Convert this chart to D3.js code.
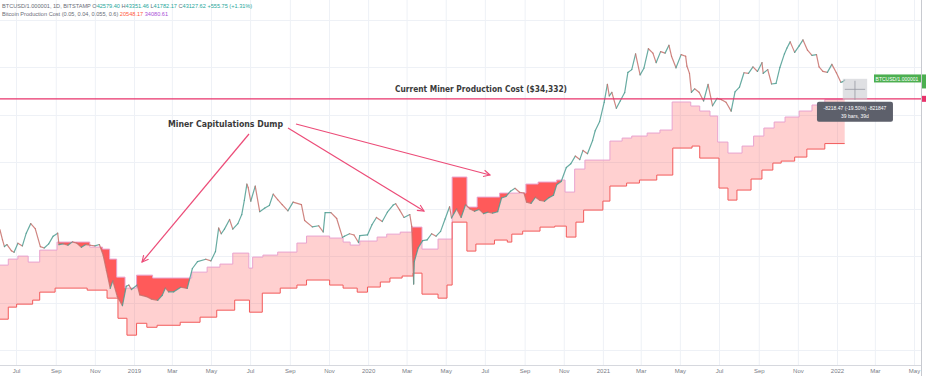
<!DOCTYPE html>
<html lang="en">
<head>
<meta charset="UTF-8">
<title>BTC Miner Production Cost</title>
<script src="https://d3js.org/d3.v7.min.js"></script>
<style>
  body { margin: 0; background: #fff; }
  svg { display: block; font-family: "Liberation Sans", Arial, sans-serif; }
</style>
</head>
<body>
<div id="graph"></div>
<script>
// ---- data ----
// BTCUSD closes (approx, sampled ~weekly)
const priceDates = [
  "2018-06-06","2018-06-10","2018-06-13","2018-06-17","2018-06-24","2018-06-28","2018-07-04","2018-07-11","2018-07-17","2018-07-24",
  "2018-07-31","2018-08-08","2018-08-14","2018-08-21","2018-08-28","2018-09-04","2018-09-06","2018-09-13","2018-09-20","2018-09-27",
  "2018-10-04","2018-10-11","2018-10-18","2018-10-25","2018-11-01","2018-11-08","2018-11-14","2018-11-19","2018-11-25","2018-11-29",
  "2018-12-06","2018-12-14","2018-12-20","2018-12-24","2018-12-28",
  "2019-01-06","2019-01-10","2019-01-20","2019-01-28","2019-02-07","2019-02-14","2019-02-19","2019-02-24","2019-03-04","2019-03-15",
  "2019-03-25","2019-04-02","2019-04-10","2019-04-23","2019-05-01","2019-05-08","2019-05-13","2019-05-17","2019-05-22","2019-05-30",
  "2019-06-04","2019-06-12","2019-06-18","2019-06-22","2019-06-26","2019-06-28","2019-07-02","2019-07-09","2019-07-16","2019-07-24",
  "2019-07-31","2019-08-06","2019-08-13","2019-08-20","2019-08-29","2019-09-06","2019-09-19","2019-09-24","2019-10-06","2019-10-16",
  "2019-10-23","2019-10-26","2019-11-04","2019-11-13","2019-11-22","2019-11-25","2019-12-03","2019-12-10","2019-12-17","2019-12-19",
  "2019-12-31",
  "2020-01-07","2020-01-14","2020-01-23","2020-01-31","2020-02-09","2020-02-13","2020-02-19","2020-02-26","2020-03-06","2020-03-09",
  "2020-03-12","2020-03-13","2020-03-19","2020-03-26","2020-04-02","2020-04-09","2020-04-16","2020-04-23","2020-04-30","2020-05-07",
  "2020-05-10","2020-05-18","2020-05-25","2020-06-01","2020-06-08","2020-06-15","2020-06-22","2020-06-29","2020-07-06","2020-07-13",
  "2020-07-21","2020-07-27","2020-08-03","2020-08-10","2020-08-17","2020-08-24","2020-08-31","2020-09-04","2020-09-11","2020-09-18",
  "2020-09-25","2020-10-02","2020-10-09","2020-10-16","2020-10-21","2020-10-28","2020-11-05","2020-11-12","2020-11-19","2020-11-26",
  "2020-12-01","2020-12-08","2020-12-16","2020-12-20","2020-12-27",
  "2021-01-03","2021-01-08","2021-01-11","2021-01-15","2021-01-22","2021-01-28","2021-02-04","2021-02-09","2021-02-15","2021-02-21",
  "2021-02-28","2021-03-06","2021-03-13","2021-03-20","2021-03-25","2021-04-01","2021-04-08","2021-04-14","2021-04-18","2021-04-25",
  "2021-05-03","2021-05-10","2021-05-12","2021-05-16","2021-05-19","2021-05-24","2021-05-31","2021-06-07","2021-06-14","2021-06-21",
  "2021-06-28","2021-07-05","2021-07-12","2021-07-20","2021-07-26","2021-08-02","2021-08-09","2021-08-16","2021-08-23","2021-08-30",
  "2021-09-06","2021-09-08","2021-09-15","2021-09-21","2021-09-28","2021-10-04","2021-10-11","2021-10-15","2021-10-20","2021-10-27",
  "2021-11-03","2021-11-09","2021-11-16","2021-11-23","2021-11-30","2021-12-04","2021-12-10","2021-12-17","2021-12-24","2021-12-31",
  "2022-01-07","2022-01-10","2022-01-13"
];
const priceValues = [
  7650, 6800, 6300, 6450, 6000, 5900, 6550, 6350, 7350, 8200,
  7750, 6300, 6200, 6500, 7100, 7350, 6450, 6500, 6400, 6650,
  6550, 6250, 6450, 6400, 6350, 6450, 5700, 4800, 3900, 4250,
  3550, 3200, 4000, 4050, 3850,
  4050, 3620, 3550, 3450, 3400, 3600, 3920, 3750, 3750, 3950,
  3900, 4900, 5300, 5450, 5350, 5950, 7800, 7300, 7700, 8600,
  7700, 8200, 9100, 10700, 12900, 12400, 10600, 12600, 9400, 9800,
  10100, 11500, 10800, 10200, 9500, 10500, 10200, 8500, 7900, 8000,
  7450, 9300, 9300, 8700, 7000, 7100, 7300, 7200, 6600, 7150,
  7200,
  8100, 8800, 8400, 9350, 10150, 10300, 9600, 8800, 9100, 7950,
  4100, 5300, 6200, 6750, 6800, 7300, 7100, 7500, 8650, 9950,
  8750, 9700, 8800, 10200, 9700, 9450, 9650, 9200, 9350, 9250,
  9400, 11000, 11200, 11900, 12300, 11750, 11650, 10500, 10350, 11100,
  10700, 10600, 11050, 11350, 12800, 13300, 15600, 16300, 17800, 17100,
  19000, 18300, 21300, 23800, 26500,
  33000, 40500, 35500, 37000, 30800, 33500, 36900, 46500, 48000, 57500,
  45200, 48800, 61000, 58000, 52000, 59000, 58000, 63500, 56000, 49000,
  57000, 56000, 50000, 46000, 37000, 38500, 37000, 33500, 40500, 31700,
  34500, 34000, 33000, 29800, 37200, 39300, 46300, 46000, 49500, 47000,
  52000, 46000, 48000, 40700, 41000, 49200, 57500, 61500, 66000, 58500,
  63000, 67500, 60000, 56500, 57000, 49500, 47000, 46500, 51000, 46300,
  41500, 41800, 42600
];

// production cost band, upper (purple) - step values
const upperDates = [
  "2018-06-01","2018-06-19","2018-07-04","2018-07-20","2018-08-07","2018-09-03","2018-10-24","2018-11-13","2018-11-24","2018-12-05",
  "2018-12-18","2019-01-05","2019-01-30","2019-04-01","2019-04-25","2019-05-15","2019-06-04","2019-06-29","2019-07-05","2019-07-21",
  "2019-08-13","2019-09-12","2019-09-27","2019-11-02","2019-11-23","2019-12-04","2019-12-19","2020-01-15","2020-01-30","2020-02-20",
  "2020-03-09","2020-03-25","2020-04-19","2020-05-11","2020-06-03","2020-06-19","2020-07-24","2020-09-03","2020-09-22","2020-10-21",
  "2020-11-03","2020-11-18","2020-12-04","2021-01-12","2021-01-31","2021-02-15","2021-03-11","2021-03-31","2021-04-19","2021-05-18",
  "2021-06-01","2021-06-17","2021-06-29","2021-07-15","2021-08-06","2021-08-24","2021-09-09","2021-09-25","2021-10-12","2021-11-03",
  "2021-11-23","2021-12-13"
];
const upperValues = [
  5095, 5458, 5649, 5274, 6052, 6636, 6265, 6122, 5458, 4438,
  3912, 4541, 4392, 4700, 4978, 5154, 5847, 4921, 5585, 5714,
  5915, 6560, 7109, 6948, 6636, 6411, 6713, 7028, 7269, 7438,
  7878, 6122, 6868, 13994, 9913, 11117, 11641, 12913, 13213, 13520,
  11777, 15335, 17000, 21146, 21887, 22396, 23186, 24000, 33101, 31615,
  29845, 28179, 20904, 18424, 19965, 22396, 24557, 26309, 27865, 29845,
  31980, 34080
];

// production cost band, lower (red) - step values
const lowerDates = [
  "2018-06-01","2018-06-19","2018-07-02","2018-07-27","2018-08-07","2018-08-31","2018-10-20","2018-11-20","2018-12-07","2018-12-21",
  "2019-01-05","2019-01-21","2019-02-06","2019-03-14","2019-04-14","2019-05-10","2019-06-07","2019-06-30","2019-07-20","2019-08-17",
  "2019-09-12","2019-09-27","2019-11-02","2019-11-23","2019-12-15","2019-12-31","2020-01-20","2020-02-04","2020-02-23","2020-03-11",
  "2020-03-25","2020-04-19","2020-05-03","2020-05-11","2020-06-03","2020-06-17","2020-07-16","2020-08-05","2020-08-12","2020-08-29",
  "2020-09-25","2020-10-18","2020-11-05","2020-11-20","2020-12-02","2021-01-01","2021-01-12","2021-02-07","2021-02-27","2021-03-26",
  "2021-04-20","2021-05-20","2021-06-01","2021-07-01","2021-07-15","2021-07-29","2021-08-20","2021-09-06","2021-09-23","2021-10-06",
  "2021-10-27","2021-11-15","2021-12-13"
];
const lowerValues = [
  2739, 3145, 3255, 3408, 3736, 3912, 3823, 3487, 2768, 2280,
  2613, 2496, 2554, 2644, 2803, 3037, 3408, 2968, 3693, 3912,
  4052, 4292, 4052, 3912, 3736, 3961, 4195, 4392, 4494, 4646,
  3651, 3487, 4052, 8341, 5983, 6485, 6790, 6636, 7269, 7524,
  7878, 7969, 7028, 8341, 9577, 10618, 12620, 13062, 13520, 14314,
  19513, 19965, 17395, 12330, 10740, 12050, 13676, 15160, 16424, 16806,
  17597, 19290, 20548
];
const bandEnd = "2022-01-13";

const currentCost = 34332;
const monthTicks = [
  "2018-07-01","2018-09-01","2018-11-01","2019-01-01","2019-03-01","2019-05-01","2019-07-01","2019-09-01","2019-11-01",
  "2020-01-01","2020-03-01","2020-05-01","2020-07-01","2020-09-01","2020-11-01","2021-01-01","2021-03-01","2021-05-01",
  "2021-07-01","2021-09-01","2021-11-01","2022-01-01","2022-03-01","2022-05-01"
];
const monthLabels = [
  "Jul","Sep","Nov","2019","Mar","May","Jul","Sep","Nov",
  "2020","Mar","May","Jul","Sep","Nov","2021","Mar","May",
  "Jul","Sep","Nov","2022","Mar","May"
];
const gridPrices = [85000, 49500, 28500, 16600, 9700, 5650, 3290, 1920];

// ---- chart ----
var width = 926, height = 376;
var plotRight = 921, plotBottom = 365;
var parse = d3.utcParse("%Y-%m-%d");

var svg = d3.select("#graph").append("svg")
    .attr("width", width)
    .attr("height", height);

var x = d3.scaleUtc()
    .domain([parse("2019-01-01"), parse("2022-01-01")])
    .range([134, 837]);

var y = d3.scaleLog()
    .domain([3150, 69000])
    .range([307, 38]);

var price = priceDates.map((d, i) => ({ date: parse(d), value: priceValues[i] }));
var upper = upperDates.map((d, i) => ({ date: parse(d), value: upperValues[i] }));
var lower = lowerDates.map((d, i) => ({ date: parse(d), value: lowerValues[i] }));
upper.push({ date: parse(bandEnd), value: upperValues[upperValues.length - 1] });
lower.push({ date: parse(bandEnd), value: lowerValues[lowerValues.length - 1] });

// upper and lower step on different dates -> merge them for the band area
var stepDates = Array.from(new Set(upperDates.concat(lowerDates, [bandEnd]))).sort();
var bis = d3.bisector(d => d.date).right;
function stepAt(arr, dt) { return arr[Math.max(0, bis(arr, dt) - 1)].value; }
var band = stepDates.map(s => {
    var dt = parse(s);
    return { date: dt, hi: stepAt(upper, dt), lo: stepAt(lower, dt) };
});

var plot = svg.append("g");
var defs = svg.append("defs");
defs.append("clipPath").attr("id", "plotClip")
    .append("rect").attr("x", 0).attr("y", 0).attr("width", plotRight).attr("height", plotBottom);
plot.attr("clip-path", "url(#plotClip)");

// grid
plot.selectAll(".vgrid").data(monthTicks).enter().append("line")
    .attr("class", "vgrid")
    .attr("x1", d => x(parse(d)) + 0.5).attr("x2", d => x(parse(d)) + 0.5)
    .attr("y1", 0).attr("y2", plotBottom)
    .attr("stroke", "#eef1f6").attr("stroke-width", 1);
plot.selectAll(".hgrid").data(gridPrices).enter().append("line")
    .attr("class", "hgrid")
    .attr("x1", 0).attr("x2", plotRight)
    .attr("y1", d => Math.round(y(d)) + 0.5).attr("y2", d => Math.round(y(d)) + 0.5)
    .attr("stroke", "#eef1f6").attr("stroke-width", 1);

// pink band
plot.append("path")
    .datum(band)
    .attr("d", d3.area().curve(d3.curveStepAfter)
        .x(d => x(d.date)).y0(d => y(d.lo)).y1(d => y(d.hi)))
    .attr("fill", "rgba(255,82,82,0.27)");

// dark fill where price sits under the upper band
defs.append("clipPath").attr("id", "underUpper")
    .append("path")
    .datum(upper)
    .attr("d", d3.area().curve(d3.curveStepAfter)
        .x(d => x(d.date)).y0(plotBottom).y1(d => y(d.value)));
plot.append("path")
    .datum(price)
    .attr("clip-path", "url(#underUpper)")
    .attr("d", d3.area().x(d => x(d.date)).y0(0).y1(d => y(d.value)))
    .attr("fill", "#ff5a5a");

// band edges
plot.append("path")
    .datum(upper)
    .attr("d", d3.line().curve(d3.curveStepAfter).x(d => x(d.date)).y(d => y(d.value)))
    .attr("fill", "none").attr("stroke", "#e9a3cf").attr("stroke-width", 1);
plot.append("path")
    .datum(lower)
    .attr("d", d3.line().curve(d3.curveStepAfter).x(d => x(d.date)).y(d => y(d.value)))
    .attr("fill", "none").attr("stroke", "#f25a5a").attr("stroke-width", 1);

// price, coloured by direction like candles
plot.selectAll(".seg").data(price.slice(1)).enter().append("line")
    .attr("class", "seg")
    .attr("x1", (d, i) => x(price[i].date)).attr("y1", (d, i) => y(price[i].value))
    .attr("x2", d => x(d.date)).attr("y2", d => y(d.value))
    .attr("stroke", (d, i) => d.value >= price[i].value ? "#4f9e93" : "#c8716c")
    .attr("stroke-width", 1.2)
    .attr("stroke-linecap", "round")
    .attr("opacity", 0.85);

// current production cost line
plot.append("line")
    .attr("x1", 0).attr("x2", plotRight)
    .attr("y1", y(currentCost)).attr("y2", y(currentCost))
    .attr("stroke", "#e8336b").attr("stroke-width", 1.4);

// measure box
var mStart = parse("2022-01-10"), mEnd = parse("2022-02-17");
plot.append("rect")
    .attr("x", x(mStart)).attr("y", y(43200))
    .attr("width", x(mEnd) - x(mStart)).attr("height", y(33930) - y(43200))
    .attr("fill", "#c9cbd1").attr("opacity", 0.6);
var mx = (x(mStart) + x(mEnd)) / 2, my = (y(43200) + y(33930)) / 2;
plot.append("line").attr("x1", mx).attr("x2", mx).attr("y1", y(43200) + 2).attr("y2", y(33930))
    .attr("stroke", "#9598a1").attr("stroke-width", 0.8);
plot.append("line").attr("x1", x(mStart) + 2).attr("x2", x(mEnd) - 2).attr("y1", my).attr("y2", my)
    .attr("stroke", "#9598a1").attr("stroke-width", 0.8);

var tip = svg.append("g").attr("transform", "translate(" + (mx - 38) + "," + (y(33930) + 2) + ")");
tip.append("rect").attr("width", 76).attr("height", 20).attr("rx", 2).attr("fill", "#5d606b");
tip.append("text").attr("x", 38).attr("y", 8).attr("text-anchor", "middle")
    .attr("font-size", 5).attr("fill", "#fff").text("-8218.47 (-19.50%) -821847");
tip.append("text").attr("x", 38).attr("y", 16).attr("text-anchor", "middle")
    .attr("font-size", 5).attr("fill", "#fff").text("39 bars, 39d");

// annotations
svg.append("text")
    .attr("x", 395).attr("y", 91.5)
    .attr("font-family", "DejaVu Sans, sans-serif").attr("font-weight", "bold")
    .attr("font-size", 9).attr("fill", "#3a3a3a")
    .attr("textLength", 172).attr("lengthAdjust", "spacingAndGlyphs")
    .text("Current Miner Production Cost ($34,332)");
svg.append("text")
    .attr("x", 168).attr("y", 126.5)
    .attr("font-family", "DejaVu Sans, sans-serif").attr("font-weight", "bold")
    .attr("font-size", 9).attr("fill", "#3a3a3a")
    .attr("textLength", 115).attr("lengthAdjust", "spacingAndGlyphs")
    .text("Miner Capitulations Dump");

defs.append("marker").attr("id", "head")
    .attr("viewBox", "0 0 10 10").attr("refX", 9).attr("refY", 5)
    .attr("markerWidth", 8).attr("markerHeight", 8)
    .attr("markerUnits", "userSpaceOnUse")
    .attr("orient", "auto")
    .append("path").attr("d", "M1,1 L9,5 L1,9")
    .attr("fill", "none").attr("stroke", "#ec4c78").attr("stroke-width", 1.4);
var arrows = [[249, 134, 142, 262], [288, 128, 424, 211], [296, 124, 490, 175]];
svg.selectAll(".arrow").data(arrows).enter().append("line")
    .attr("class", "arrow")
    .attr("x1", d => d[0]).attr("y1", d => d[1]).attr("x2", d => d[2]).attr("y2", d => d[3])
    .attr("stroke", "#ec4c78").attr("stroke-width", 1.2)
    .attr("marker-end", "url(#head)");

// x axis
svg.append("line")
    .attr("x1", 0).attr("x2", plotRight).attr("y1", plotBottom + 0.5).attr("y2", plotBottom + 0.5)
    .attr("stroke", "#d6d8de");
svg.append("line")
    .attr("x1", plotRight + 0.5).attr("x2", plotRight + 0.5).attr("y1", 0).attr("y2", height)
    .attr("stroke", "#c8cad0");
var xAxis = d3.axisBottom(x)
    .tickValues(monthTicks.map(parse))
    .tickFormat((d, i) => monthLabels[i])
    .tickSize(0).tickPadding(4);
svg.append("g")
    .attr("transform", "translate(0," + plotBottom + ")")
    .call(xAxis)
    .call(g => g.select(".domain").remove())
    .selectAll("text")
    .attr("font-size", 6).attr("fill", "#7a7d86")
    .attr("font-family", "Liberation Sans, Arial, sans-serif");

// price scale labels
var lastPrice = 43127.62;
svg.append("rect").attr("x", 874).attr("y", y(lastPrice) - 4.5).attr("width", 47).attr("height", 8)
    .attr("fill", "#4caf50");
svg.append("text").attr("x", 897).attr("y", y(lastPrice) + 1.8).attr("text-anchor", "middle")
    .attr("font-size", 5).attr("fill", "#fff").text("BTCUSD/1.000001");
svg.append("rect").attr("x", plotRight + 1).attr("y", y(lastPrice) - 4.5).attr("width", 5).attr("height", 14)
    .attr("fill", "#4caf50");
svg.append("rect").attr("x", plotRight + 1).attr("y", y(currentCost) - 3).attr("width", 5).attr("height", 6)
    .attr("fill", "#e8336b");

// legend
var lg1 = svg.append("text").attr("x", 2).attr("y", 8).attr("font-size", 5.6).attr("fill", "#6a6d78");
lg1.append("tspan").text("BTCUSD/1.000001, 1D, BITSTAMP  ");
[["O", "42579.40"], ["H", "43351.46"], ["L", "41782.17"], ["C", "43127.62"]].forEach(p => {
    lg1.append("tspan").text(p[0]);
    lg1.append("tspan").attr("fill", "#26a69a").text(p[1] + " ");
});
lg1.append("tspan").attr("fill", "#26a69a").text("+555.75 (+1.31%)");
var lg2 = svg.append("text").attr("x", 2).attr("y", 16).attr("font-size", 5.6).attr("fill", "#6a6d78");
lg2.append("tspan").text("Bitcoin Production Cost (0.05, 0.04, 0.055, 0.6)  ");
lg2.append("tspan").attr("fill", "#ff5b3a").text("20548.17  ");
lg2.append("tspan").attr("fill", "#a94fd6").text("34080.61");
</script>
</body>
</html>
